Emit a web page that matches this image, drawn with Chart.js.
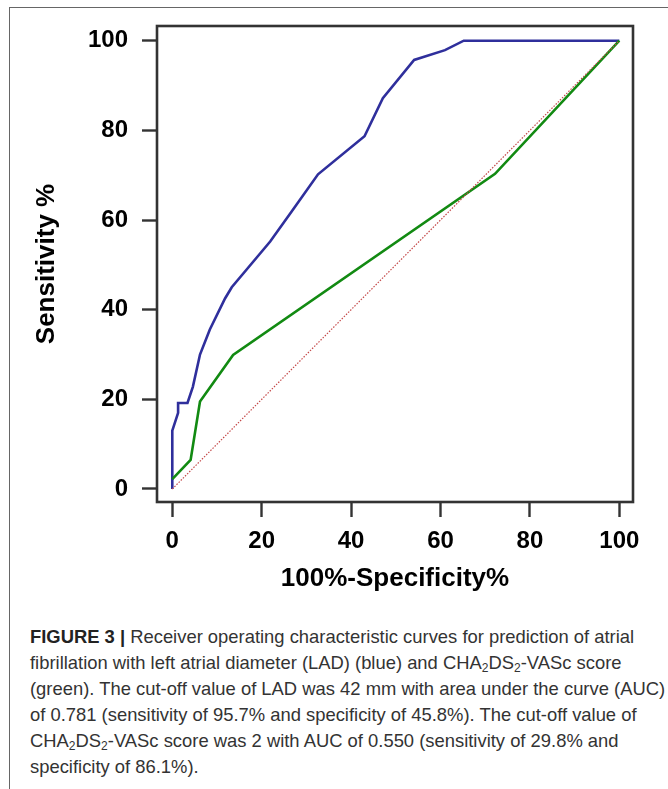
<!DOCTYPE html>
<html>
<head>
<meta charset="utf-8">
<script src="https://cdn.jsdelivr.net/npm/chart.js@4"></script>
<style>
  html, body { margin: 0; padding: 0; background: #fff; }
  body { width: 668px; height: 789px; position: relative; overflow: hidden; }
  #frame { position: absolute; left: 9px; top: 7px; width: 700px; height: 800px;
           border-top: 1.5px solid #666; border-left: 1.5px solid #666; }
  #wrap { position: absolute; left: 0; top: 0; width: 668px; height: 600px; }
  #caption { position: absolute; left: 30px; top: 624px; width: 636px;
             font-family: "Liberation Sans", Arial, sans-serif; font-size: 18.4px;
             line-height: 25.9px; color: #333; white-space: nowrap; }
  #caption b { color: #222; }
  #caption sub { font-size: 12px; vertical-align: -3px; line-height: 0; }
</style>
</head>
<body>
<div id="frame"></div>
<div id="wrap"><canvas id="rocChart" width="668" height="600"></canvas></div>
<div id="caption">
  <b>FIGURE 3 |</b> Receiver operating characteristic curves for prediction of atrial<br>
  fibrillation with left atrial diameter (LAD) (blue) and CHA<sub>2</sub>DS<sub>2</sub>-VASc score<br>
  (green). The cut-off value of LAD was 42 mm with area under the curve (AUC)<br>
  of 0.781 (sensitivity of 95.7% and specificity of 45.8%). The cut-off value of<br>
  CHA<sub>2</sub>DS<sub>2</sub>-VASc score was 2 with AUC of 0.550 (sensitivity of 29.8% and<br>
  specificity of 86.1%).
</div>
<script>
// ROC data (100% - specificity, sensitivity)
const ladX = [0, 0, 1.3, 1.3, 3.4, 4.6, 6.2, 8.4, 11.8, 13.3, 21.9, 26.7, 32.6, 43.0, 47.1, 54.1, 61.0, 65.2, 100];
const ladY = [0, 13, 17, 19.2, 19.2, 22.8, 30.0, 35.6, 42.5, 45.0, 55.2, 61.9, 70.2, 78.7, 87.2, 95.7, 97.9, 100, 100];
const chaX = [0, 4.1, 6.2, 13.6, 72.2, 100];
const chaY = [2.2, 6.5, 19.5, 29.9, 70.3, 100];
const refX = [0, 100];
const refY = [0, 100];
const tickVals = [0, 20, 40, 60, 80, 100];

const toPts = (xs, ys) => xs.map((x, i) => ({ x: x, y: ys[i] }));

// box round the plot area
const boxPlugin = {
  id: 'box',
  afterDraw(chart) {
    const a = chart.chartArea;
    const ctx = chart.ctx;
    ctx.save();
    ctx.strokeStyle = '#333';
    ctx.lineWidth = 2.6;
    ctx.strokeRect(a.left, a.top, a.right - a.left, a.bottom - a.top);
    ctx.restore();
  }
};

const tickFont = { family: 'Arial, "Liberation Sans", sans-serif', size: 24, weight: 'bold' };
const titleFont = { family: 'Arial, "Liberation Sans", sans-serif', size: 26, weight: 'bold' };

new Chart(document.getElementById('rocChart').getContext('2d'), {
  type: 'scatter',
  data: {
    datasets: [
      {
        data: toPts(refX, refY),
        showLine: true,
        borderColor: '#c44848',
        borderWidth: 1.2,
        borderDash: [1.5, 1.5],
        pointRadius: 0
      },
      {
        data: toPts(chaX, chaY),
        showLine: true,
        borderColor: '#128a12',
        borderWidth: 2.6,
        pointRadius: 0
      },
      {
        data: toPts(ladX, ladY),
        showLine: true,
        borderColor: '#2f2f9c',
        borderWidth: 2.6,
        pointRadius: 0
      }
    ]
  },
  options: {
    responsive: false,
    animation: false,
    layout: { padding: { left: 0, right: 35, top: 26, bottom: 0 } },
    plugins: { legend: { display: false }, tooltip: { enabled: false } },
    scales: {
      x: {
        type: 'linear',
        min: -3.42,
        max: 103.06,
        afterBuildTicks: (s) => { s.ticks = tickVals.map(v => ({ value: v })); },
        afterFit: (s) => { s.height = 98; s.paddingLeft = 0; s.paddingRight = 0; },
        grid: { drawOnChartArea: false, drawTicks: true, tickLength: 15, tickColor: '#333', tickWidth: 2.4 },
        border: { display: false },
        ticks: { color: '#000', font: tickFont, padding: 10, maxRotation: 0 },
        title: { display: true, text: '100%-Specificity%', color: '#000', font: titleFont,
                 padding: { top: 0, bottom: 6 } }
      },
      y: {
        type: 'linear',
        min: -2.9,
        max: 103.28,
        afterBuildTicks: (s) => { s.ticks = tickVals.map(v => ({ value: v })); },
        afterFit: (s) => { s.width = 157; s.paddingTop = 0; s.paddingBottom = 0; },
        grid: { drawOnChartArea: false, drawTicks: true, tickLength: 15, tickColor: '#333', tickWidth: 2.4 },
        border: { display: false },
        ticks: { color: '#000', font: tickFont, padding: 14 },
        title: { display: true, text: 'Sensitivity %', color: '#000', font: titleFont,
                 padding: { top: 31, bottom: 0 } }
      }
    }
  },
  plugins: [boxPlugin]
});
</script>
</body>
</html>
